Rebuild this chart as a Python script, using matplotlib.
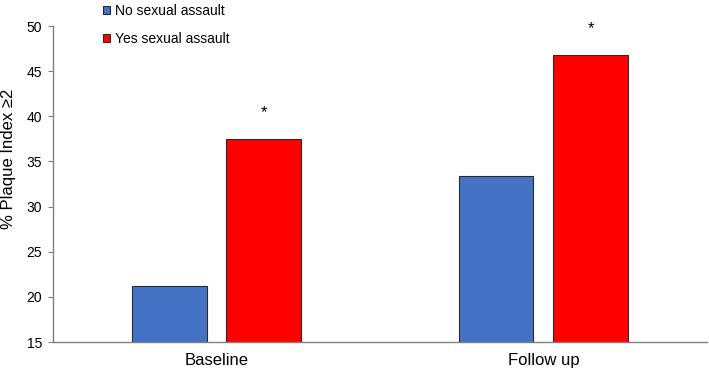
import matplotlib
matplotlib.use("Agg")
import matplotlib.pyplot as plt
import numpy as np

categories = ["Baseline", "Follow up"]
series_names = ["No sexual assault", "Yes sexual assault"]
no_assault = [21.2, 33.35]
yes_assault = [37.5, 46.8]
significant = [True, True]
yticks = [15, 20, 25, 30, 35, 40, 45, 50]

plt.rcParams['font.family'] = ['Liberation Sans', 'DejaVu Sans']

fig = plt.figure(figsize=(7.09, 3.72), dpi=100)
ax = fig.add_axes([0.0748, 0.0806, 0.9222, 0.8494])

x = np.arange(len(categories))
w = 0.227
off = 0.144
b1 = ax.bar(x - off, no_assault, width=w, bottom=0, color="#4472C4",
            edgecolor="#2a2a2a", linewidth=0.8, label=series_names[0])
b2 = ax.bar(x + off, yes_assault, width=w, bottom=0, color="#FF0000",
            edgecolor="#2a2a2a", linewidth=0.8, label=series_names[1])

for xi, v, s in zip(x, yes_assault, significant):
    if s:
        ax.text(xi + off, v + 2.9, "*", ha="center", va="center", fontsize=12)

ax.set_ylim(15, 50)
ax.set_xlim(-0.5, 1.5)
ax.set_yticks(yticks)
ax.set_xticks(x)
ax.set_xticklabels(categories, fontsize=12)
ax.tick_params(axis='y', labelsize=10, length=3.6, color="#808080", pad=4.3)
ax.tick_params(axis='x', length=0, pad=8)
ax.set_ylabel("% Plaque Index \u22652", fontsize=12)
ax.yaxis.set_label_coords(-0.057, 0.579)

for side in ["top", "right"]:
    ax.spines[side].set_visible(False)
for side in ["left", "bottom"]:
    ax.spines[side].set_color("#808080")
    ax.spines[side].set_linewidth(1.0)

leg = fig.legend(handles=[b1, b2], labels=series_names, loc="upper left",
                 bbox_to_anchor=(0.138, 1.005), frameon=False, fontsize=10,
                 handlelength=0.5, handleheight=0.5, handletextpad=0.3,
                 labelspacing=1.05, borderaxespad=0)

fig.savefig("out.png", dpi=100)
